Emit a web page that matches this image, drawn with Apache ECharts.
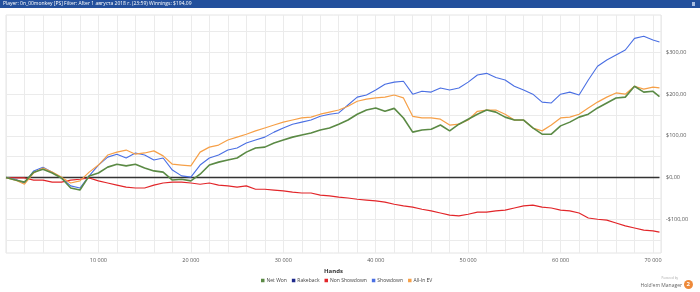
<!DOCTYPE html>
<html>
<head>
<meta charset="utf-8">
<script src="https://cdn.jsdelivr.net/npm/echarts@6/dist/echarts.min.js"></script>
<style>
  html, body { margin: 0; padding: 0; background: #fff; }
  #chart { width: 700px; height: 292px; }
</style>
</head>
<body>
<div id="chart"></div>
<script>
// readings every 1000 hands, last point at 70 700
const hands = [];
for (let i = 0; i <= 70; i++) hands.push(i * 1000);
hands.push(70700);

const netWon = [0, -6, -11, 13, 20, 11, -1, -25, -30, 4, 11, 25, 32, 28, 32, 23, 16, 13, -6, -4,
  -8, 8, 30, 37, 42, 47, 61, 71, 73, 83, 90, 97, 102, 107, 114, 119, 128, 138, 152, 162,
  167, 159, 166, 143, 109, 114, 116, 126, 112, 128, 140, 152, 162, 157, 145, 138, 138, 119, 104, 104,
  124, 133, 145, 152, 167, 179, 191, 193, 219, 205, 207, 194.09];
const rakeback = new Array(netWon.length).fill(0);
const nonShowdown = [0, -1, -1, -6, -6, -11, -11, -6, -4, -1, -8, -13, -18, -23, -25, -25, -18, -13, -11, -11,
  -13, -16, -13, -18, -20, -23, -20, -28, -28, -30, -32, -35, -37, -37, -42, -44, -47, -49, -52, -54,
  -56, -59, -64, -68, -71, -76, -80, -85, -90, -92, -88, -83, -83, -80, -78, -73, -68, -66, -71, -73,
  -78, -80, -85, -97, -100, -102, -109, -116, -121, -126, -128, -131];
const showdown = [0, -4, -13, 16, 25, 13, -1, -20, -25, 4, 30, 49, 56, 47, 59, 54, 42, 47, 18, 4,
  1, 30, 47, 54, 66, 71, 83, 90, 97, 109, 119, 128, 133, 138, 147, 152, 155, 174, 193, 198,
  210, 224, 229, 231, 200, 207, 205, 215, 210, 215, 229, 246, 250, 240, 234, 219, 210, 200, 181, 179,
  200, 205, 198, 234, 267, 282, 294, 306, 334, 339, 330, 325];
const allInEV = [0, -6, -16, 11, 23, 13, 1, -13, -8, 13, 30, 54, 61, 66, 56, 59, 64, 52, 32, 30,
  28, 61, 73, 78, 90, 97, 104, 112, 119, 126, 133, 138, 143, 145, 152, 157, 162, 171, 183, 188,
  191, 193, 198, 191, 147, 143, 143, 140, 126, 128, 138, 159, 162, 162, 152, 138, 138, 119, 112, 126,
  143, 145, 152, 167, 181, 193, 203, 200, 219, 212, 217, 215];

const yLabels = [-100, 0, 100, 200, 300];
const yGrid = [-150, -100, -50, 0, 50, 100, 150, 200, 250, 300, 350];

const pairs = arr => hands.map((h, i) => [h, arr[i]]);
const money = v => (v < 0 ? '-$' : '$') + Math.abs(v).toFixed(2).replace('.', ',');

const myChart = echarts.init(document.getElementById('chart'));
const font = 'Open Sans';

function line(name, data, color, width, z, lineColor) {
  return {
    name: name, type: 'line', data: pairs(data), showSymbol: false, symbol: 'circle',
    z: z, animation: false,
    itemStyle: { color: color },
    lineStyle: { color: lineColor || color, width: width }
  };
}

myChart.setOption({
  animation: false,
  textStyle: { fontFamily: font },
  grid: {
    left: 6, right: 39, top: 15, bottom: 39,
    outerBoundsMode: 'none', containLabel: false,
    show: true, borderColor: '#e4e4e4', borderWidth: 1
  },
  xAxis: {
    type: 'value', min: 0, max: 70865, interval: 2000,
    name: 'Hands', nameLocation: 'middle', nameGap: 11,
    nameTextStyle: { fontSize: 6, fontWeight: 'bold', color: '#333', padding: [0, 0, 0, 0] },
    axisLine: { show: false }, axisTick: { show: false },
    axisLabel: {
      fontSize: 5.5, color: '#555', margin: 4, showMaxLabel: false,
      formatter: v => (v > 0 && v % 10000 === 0) ? String(v / 1000) + ' 000' : ''
    },
    splitLine: { lineStyle: { color: '#ebebeb', width: 1 } }
  },
  yAxis: {
    type: 'value', position: 'right', min: -181, max: 390,
    name: 'Winnings', nameLocation: 'middle', nameRotate: 90, nameGap: 26,
    nameTextStyle: { fontSize: 6, fontWeight: 'bold', color: '#333', padding: [0, 0, 0, 0] },
    axisLine: { show: false },
    axisTick: { show: false, customValues: yGrid },
    axisLabel: { fontSize: 5.5, color: '#555', margin: 5, customValues: yLabels, formatter: money },
    splitLine: { lineStyle: { color: '#ebebeb', width: 1 } }
  },
  legend: {
    bottom: 4, left: 256, itemWidth: 3.5, itemHeight: 3.5, itemGap: 5,
    icon: 'rect',
    textStyle: { fontSize: 5, color: '#444', padding: [0, 0, 0, -3] },
    data: ['Net Won', 'Rakeback', 'Non Showdown', 'Showdown', 'All-In EV']
  },
  graphic: [
    { type: 'rect', left: 0, top: 0, z: 10, shape: { width: 700, height: 8 }, style: { fill: '#23509c' } },
    { type: 'text', left: 3, top: 1, z: 11, style: {
        text: 'Player: 0n_00monkey [PS] Filter: After 1 августа 2018 г. (23:59) Winnings: $194,09',
        fill: '#fff', font: '5px "Open Sans"' } },
    { type: 'rect', left: 692, top: 2, z: 11, shape: { width: 3, height: 4 }, style: { fill: '#a8bde0' } },
    { type: 'text', right: 22, top: 277, style: { text: 'Powered by', fill: '#aaa', font: '3px "Open Sans"' } },
    { type: 'text', right: 18, top: 283, style: { text: "Hold'em Manager", fill: '#666', font: '5px "Open Sans"' } },
    { type: 'circle', left: 684, top: 280, shape: { r: 4.5 }, style: { fill: '#ee8a3a' } },
    { type: 'text', left: 686.5, top: 281.5, style: { text: '2', fill: '#fff', font: 'bold 6px "Open Sans"' } }
  ],
  series: [
    line('Net Won', netWon, '#5b8a45', 1.6, 5),
    line('Rakeback', rakeback, '#1f2a8c', 1.5, 1, '#333333'),
    line('Non Showdown', nonShowdown, '#e2262a', 1.2, 3),
    line('Showdown', showdown, '#4a6fe3', 1.1, 3),
    line('All-In EV', allInEV, '#f6a048', 1.2, 4)
  ]
});
</script>
</body>
</html>
